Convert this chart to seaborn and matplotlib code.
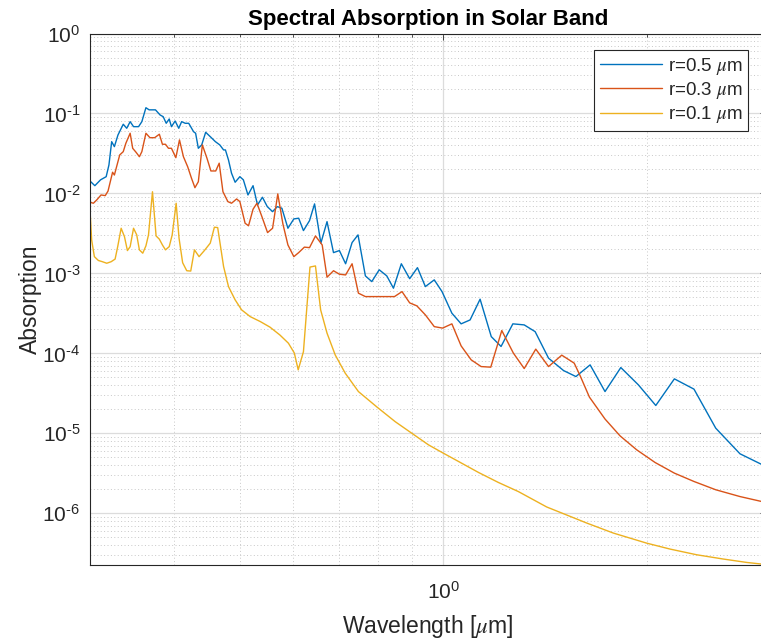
import numpy as np
import pandas as pd
import matplotlib
matplotlib.use("Agg")
import matplotlib.pyplot as plt
import seaborn as sns
from matplotlib.ticker import LogLocator, FuncFormatter, NullFormatter

# Spectral absorption for three particle radii (wavelength in micrometres)
wl_r05 = [0.300, 0.305, 0.311, 0.317, 0.320, 0.323, 0.326, 0.330, 0.336, 0.340,
          0.344, 0.348, 0.354, 0.358, 0.363, 0.367, 0.375, 0.381, 0.385, 0.389,
          0.393, 0.396, 0.401, 0.406, 0.410, 0.415, 0.420, 0.427, 0.430, 0.434,
          0.439, 0.445, 0.452, 0.460, 0.467, 0.473, 0.476, 0.481, 0.486, 0.492,
          0.500, 0.506, 0.514, 0.523, 0.531, 0.540, 0.549, 0.559, 0.568, 0.577,
          0.589, 0.601, 0.611, 0.621, 0.634, 0.645, 0.659, 0.673, 0.688, 0.702,
          0.717, 0.733, 0.748, 0.767, 0.784, 0.804, 0.825, 0.844, 0.867, 0.892,
          0.916, 0.941, 0.970, 0.996, 1.030, 1.063, 1.096, 1.134, 1.178, 1.218,
          1.268, 1.318, 1.368, 1.432, 1.507, 1.572, 1.650, 1.736, 1.832, 1.945,
          2.064, 2.199, 2.351, 2.532, 2.750, 3.000]
abs_r05 = [0.0143, 0.0125, 0.0148, 0.0162, 0.0227, 0.0444, 0.0385, 0.0538, 0.0733, 0.0653,
           0.0790, 0.0684, 0.0684, 0.0790, 0.118, 0.111, 0.111, 0.0957, 0.0912, 0.0754,
           0.0853, 0.0684, 0.0805, 0.0653, 0.0790, 0.0754, 0.0754, 0.0592, 0.0566, 0.0367,
           0.0404, 0.0582, 0.0513, 0.0444, 0.0404, 0.0350, 0.0350, 0.0262, 0.0179, 0.0138,
           0.0162, 0.0148, 0.00957, 0.0125, 0.00718, 0.00896, 0.00684, 0.00592, 0.00684, 0.00653,
           0.00367, 0.00480, 0.00490, 0.00343, 0.00457, 0.00740, 0.00239, 0.00444, 0.00182, 0.00193,
           0.00132, 0.00243, 0.00303, 0.000931, 0.000790, 0.00111, 0.000931, 0.000653, 0.00132, 0.000859,
           0.00118, 0.000684, 0.000830, 0.000592, 0.000318, 0.000234, 0.000262, 0.000476, 0.000162, 0.000122,
           0.000234, 0.000227, 0.000187, 8.71e-5, 6.10e-5, 5.13e-5, 7.18e-5, 3.33e-5, 6.65e-5, 4.04e-5,
           2.23e-5, 4.80e-5, 3.57e-5, 1.16e-5, 5.55e-6, 3.87e-6]

wl_r03 = [0.300, 0.3035, 0.307, 0.3115, 0.316, 0.319, 0.324, 0.326, 0.332, 0.336,
          0.339, 0.344, 0.347, 0.351, 0.355, 0.358, 0.363, 0.368, 0.374, 0.380,
          0.384, 0.388, 0.392, 0.396, 0.402, 0.407, 0.4125, 0.4185, 0.424, 0.429,
          0.434, 0.440, 0.447, 0.453, 0.4605, 0.466, 0.472, 0.480, 0.486, 0.4945,
          0.500, 0.509, 0.515, 0.523, 0.530, 0.539, 0.5495, 0.559, 0.569, 0.579,
          0.589, 0.601, 0.611, 0.623, 0.634, 0.647, 0.662, 0.673, 0.688, 0.702,
          0.717, 0.733, 0.749, 0.767, 0.789, 0.825, 0.847, 0.869, 0.892, 0.914,
          0.941, 0.970, 0.998, 1.030, 1.063, 1.100, 1.138, 1.176, 1.221, 1.270,
          1.318, 1.371, 1.432, 1.498, 1.563, 1.595, 1.646, 1.736, 1.827, 1.934,
          2.059, 2.199, 2.351, 2.532, 2.750, 3.000]
abs_r03 = [0.00776, 0.00754, 0.00830, 0.00957, 0.00939, 0.0107, 0.0184, 0.0170, 0.0303, 0.0333,
           0.0424, 0.0566, 0.0367, 0.0327, 0.0288, 0.0333, 0.0566, 0.0498, 0.0498, 0.0550,
           0.0412, 0.0412, 0.0367, 0.0367, 0.0280, 0.0467, 0.0288, 0.0216, 0.0155, 0.0118,
           0.0140, 0.0404, 0.0275, 0.0191, 0.0191, 0.0239, 0.0105, 0.00790, 0.00754, 0.00853,
           0.00790, 0.00424, 0.00394, 0.00635, 0.00754, 0.00513, 0.00324, 0.00367, 0.00986, 0.00416,
           0.00227, 0.00162, 0.00182, 0.00213, 0.00210, 0.00294, 0.00227, 0.000896, 0.00108, 0.000977,
           0.000957, 0.00132, 0.000566, 0.000513, 0.000513, 0.000513, 0.000513, 0.000592, 0.000428, 0.000393,
           0.000303, 0.000216, 0.000207, 0.000234, 0.000124, 8.30e-5, 6.84e-5, 6.72e-5, 0.000193, 0.000101,
           6.46e-5, 0.000113, 6.84e-5, 9.50e-5, 7.54e-5, 5.24e-5, 2.84e-5, 1.51e-5, 9.31e-6, 6.22e-6,
           4.32e-6, 3.18e-6, 2.50e-6, 1.97e-6, 1.62e-6, 1.37e-6]

wl_r01 = [0.300, 0.3017, 0.3045, 0.3087, 0.313, 0.3176, 0.3224, 0.3268, 0.3297, 0.3336,
          0.3374, 0.3408, 0.344, 0.348, 0.3518, 0.355, 0.3591, 0.363, 0.3662, 0.3712,
          0.3758, 0.380, 0.384, 0.388, 0.393, 0.397, 0.4024, 0.4064, 0.4114, 0.4172,
          0.4229, 0.4283, 0.4351, 0.443, 0.452, 0.4584, 0.4636, 0.473, 0.481, 0.492,
          0.503, 0.518, 0.536, 0.554, 0.573, 0.590, 0.602, 0.610, 0.621, 0.635,
          0.647, 0.6585, 0.673, 0.692, 0.716, 0.749, 0.798, 0.849, 0.901, 0.951,
          1.000, 1.054, 1.128, 1.207, 1.292, 1.423, 1.632, 1.786, 2.000, 2.167,
          2.373, 2.598, 2.814, 3.000]
abs_r01 = [0.00622, 0.00262, 0.00162, 0.00145, 0.00140, 0.00134, 0.00140, 0.00151, 0.00216, 0.00367,
           0.00288, 0.00193, 0.00216, 0.00367, 0.00303, 0.00197, 0.00179, 0.00221, 0.00303, 0.0105,
           0.00294, 0.00268, 0.00227, 0.00197, 0.00216, 0.00303, 0.00754, 0.00275, 0.00136, 0.00108,
           0.00107, 0.00197, 0.00162, 0.00193, 0.00239, 0.00378, 0.00374, 0.00122, 0.000684, 0.000467,
           0.000350, 0.000288, 0.000250, 0.000213, 0.000170, 0.000134, 0.000101, 6.22e-5, 0.000105, 0.00120,
           0.00124, 0.000350, 0.000179, 9.57e-5, 5.66e-5, 3.33e-5, 2.13e-5, 1.40e-5, 9.86e-6, 7.18e-6,
           5.66e-6, 4.44e-6, 3.24e-6, 2.43e-6, 1.87e-6, 1.20e-6, 7.54e-7, 5.66e-7, 4.24e-7, 3.57e-7,
           3.03e-7, 2.68e-7, 2.43e-7, 2.29e-7]

radius_labels = [r"r=0.5 $\mu$m", r"r=0.3 $\mu$m", r"r=0.1 $\mu$m"]
line_colors = ["#0072BD", "#D95319", "#EDB120"]

frames = []
for lab, wl, ab in zip(radius_labels, [wl_r05, wl_r03, wl_r01], [abs_r05, abs_r03, abs_r01]):
    frames.append(pd.DataFrame({"Wavelength": wl, "Absorption": ab, "radius": lab}))
df = pd.concat(frames, ignore_index=True)

sns.set_style("white")
plt.rcParams["font.family"] = ["Liberation Sans", "DejaVu Sans"]
plt.rcParams["mathtext.fontset"] = "stix"


def decade_label(value, pos):
    """Power-of-ten label with a short hyphen as the exponent sign."""
    exp = int(round(np.log10(value)))
    sign = "\u2010" if exp < 0 else ""
    return r"$\mathdefault{10^{%s%d}}$" % (sign, abs(exp))


ink = "#262626"
fig = plt.figure(figsize=(7.61, 6.43), dpi=100)
ax = fig.add_axes([90 / 761, (643 - 564.5) / 643, 675.5 / 761, 531 / 643])
ax.set_xscale("log")
ax.set_yscale("log")

sns.lineplot(data=df, x="Wavelength", y="Absorption", hue="radius",
             hue_order=radius_labels, palette=line_colors, estimator=None,
             sort=False, linewidth=1.0, ax=ax)

ax.set_xlim(0.3, 3.0)
ax.set_ylim(min(abs_r01), 1.0)

ax.xaxis.set_major_locator(LogLocator(base=10, numticks=10))
ax.xaxis.set_minor_locator(LogLocator(base=10, subs=np.arange(2, 10), numticks=30))
ax.yaxis.set_major_locator(LogLocator(base=10, numticks=15))
ax.yaxis.set_minor_locator(LogLocator(base=10, subs=np.arange(2, 10), numticks=60))
ax.xaxis.set_major_formatter(FuncFormatter(decade_label))
ax.yaxis.set_major_formatter(FuncFormatter(decade_label))
ax.xaxis.set_minor_formatter(NullFormatter())
ax.yaxis.set_minor_formatter(NullFormatter())

ax.grid(True, which="major", color="#dcdcdc", linewidth=0.9, linestyle="-")
ax.grid(True, which="minor", color="#c8c8c8", linewidth=0.7, linestyle=(0, (1, 2.5)))
ax.set_axisbelow(True)

ax.tick_params(which="both", direction="in", top=True, right=True,
               color=ink, labelcolor=ink, width=0.6)
ax.tick_params(which="major", length=4, labelsize=15)
ax.tick_params(which="minor", length=2.2)
ax.tick_params(axis="y", which="major", pad=7)
ax.tick_params(axis="x", which="major", pad=12)
for sp in ax.spines.values():
    sp.set_color(ink)
    sp.set_linewidth(0.8)

ax.set_title("Spectral Absorption in Solar Band", fontsize=16, fontweight="bold",
             color="black", pad=6)
ax.set_xlabel(r"Wavelength [$\mu$m]", fontsize=16.5, color=ink, labelpad=7)
ax.set_ylabel("Absorption", fontsize=16.5, color=ink, labelpad=0)

handles, labs = ax.get_legend_handles_labels()
leg = ax.legend(handles, labs, loc="upper right", bbox_to_anchor=(0.974, 0.969),
                borderaxespad=0, fontsize=13.5, frameon=True, fancybox=False,
                framealpha=1, edgecolor=ink, handlelength=3.3, handletextpad=0.32,
                labelspacing=0.18, borderpad=0.3)
leg.get_frame().set_linewidth(0.8)

fig.savefig("out.png", dpi=100)
